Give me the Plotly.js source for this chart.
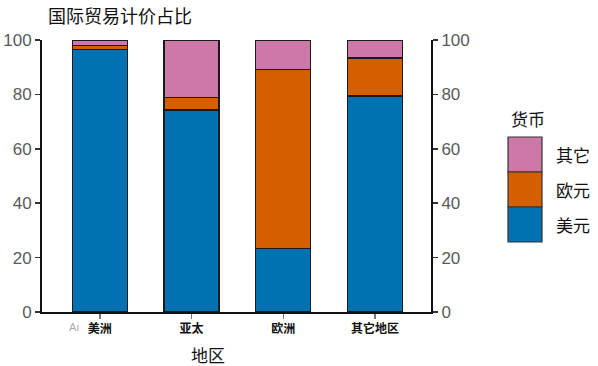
<!DOCTYPE html>
<html><head><meta charset="utf-8">
<script src="https://cdn.plot.ly/plotly-3.0.1.min.js"></script>
<style>body{margin:0;background:#fff}#c{width:598px;height:366px}</style>
</head><body><div id="c"></div>
<script>
const regions = ['美洲', '亚太', '欧洲', '其它地区'];
const usd = [96.5, 74.3, 23.3, 79.4];
const eur = [1.6, 4.7, 66.0, 14.0];
const other = [1.9, 21.0, 10.7, 6.6];
const seriesNames = ['美元', '欧元', '其它'];
const colors = ['#0072B2', '#D55E00', '#CC79A7'];
const seriesVals = [usd, eur, other];
const yTicks = [0, 20, 40, 60, 80, 100];
const xTitle = '地区';
const legendTitle = '货币';

const traces = seriesVals.map((v, i) => ({
  type: 'bar', x: regions, y: v, name: seriesNames[i], width: 0.6,
  marker: {color: colors[i], line: {color: '#1a1a1a', width: 1.2}},
  showlegend: false, hoverinfo: 'skip'
}));
traces.push({type: 'scatter', x: [regions[0]], y: [0], yaxis: 'y2', mode: 'markers',
  marker: {opacity: 0}, showlegend: false, hoverinfo: 'skip'});

const numFont = {family: 'Liberation Sans, Arial, sans-serif', size: 17, color: '#5a5a5a'};
const cjk = 'Noto Sans CJK SC, sans-serif';

const px = x => (x - 42) / 389;
const py = y => (312 - y) / 272;

const shapes = [];
const annotations = [];
const legX0 = 508, legW = 34, legH = 35, legTop = 137;
const order = [2, 1, 0];
order.forEach((si, k) => {
  const y0 = legTop + k * legH;
  shapes.push({type: 'rect', xref: 'paper', yref: 'paper',
    x0: px(legX0), x1: px(legX0 + legW), y0: py(y0), y1: py(y0 + legH),
    fillcolor: colors[si], line: {color: '#333', width: 1.2}});
  annotations.push({xref: 'paper', yref: 'paper', x: px(554), y: py(y0 + legH / 2),
    xanchor: 'left', yanchor: 'middle', text: seriesNames[si], showarrow: false,
    font: {family: cjk, size: 17, color: '#111'}});
});
annotations.push({xref: 'paper', yref: 'paper', x: px(509), y: py(118),
  xanchor: 'left', yanchor: 'middle', text: legendTitle, showarrow: false,
  font: {family: cjk, size: 17, color: '#111'}});
annotations.push({xref: 'paper', yref: 'paper', x: px(208), y: py(354),
  xanchor: 'center', yanchor: 'middle', text: xTitle, showarrow: false,
  font: {family: cjk, size: 17, color: '#111'}});
annotations.push({xref: 'paper', yref: 'paper', x: px(67), y: py(327),
  xanchor: 'left', yanchor: 'middle', text: 'Aı', showarrow: false,
  font: {family: 'Liberation Sans, Arial, sans-serif', size: 11, color: '#aaa'}});

const layout = {
  width: 598, height: 366,
  margin: {l: 42, r: 167, t: 40, b: 54},
  paper_bgcolor: '#fff', plot_bgcolor: '#fff',
  barmode: 'stack',
  title: {text: '国际贸易计价占比', font: {family: cjk, size: 18, color: '#111'},
    x: 48 / 598, xanchor: 'left', y: 1 - 17 / 366, yanchor: 'middle'},
  xaxis: {range: [-0.63, 3.61], showgrid: false, zeroline: false,
    showline: true, linecolor: '#111', linewidth: 2,
    ticks: 'outside', ticklen: 5, tickcolor: '#777', tickwidth: 1.5,
    tickfont: {family: cjk, size: 12, color: '#111', weight: 'bold'}},
  yaxis: {range: [0, 100], tickvals: yTicks, showgrid: false, zeroline: false,
    showline: true, linecolor: '#111', linewidth: 2, ticks: 'outside', ticklen: 5,
    tickcolor: '#333', tickwidth: 1.5, tickfont: numFont},
  yaxis2: {range: [0, 100], tickvals: yTicks, overlaying: 'y', side: 'right',
    showgrid: false, zeroline: false, showline: true, linecolor: '#111', linewidth: 2,
    ticks: 'outside', ticklen: 5, tickcolor: '#333', tickwidth: 1.5, tickfont: numFont},
  shapes: shapes, annotations: annotations
};
Plotly.newPlot('c', traces, layout, {displayModeBar: false, staticPlot: true});
</script></body></html>
